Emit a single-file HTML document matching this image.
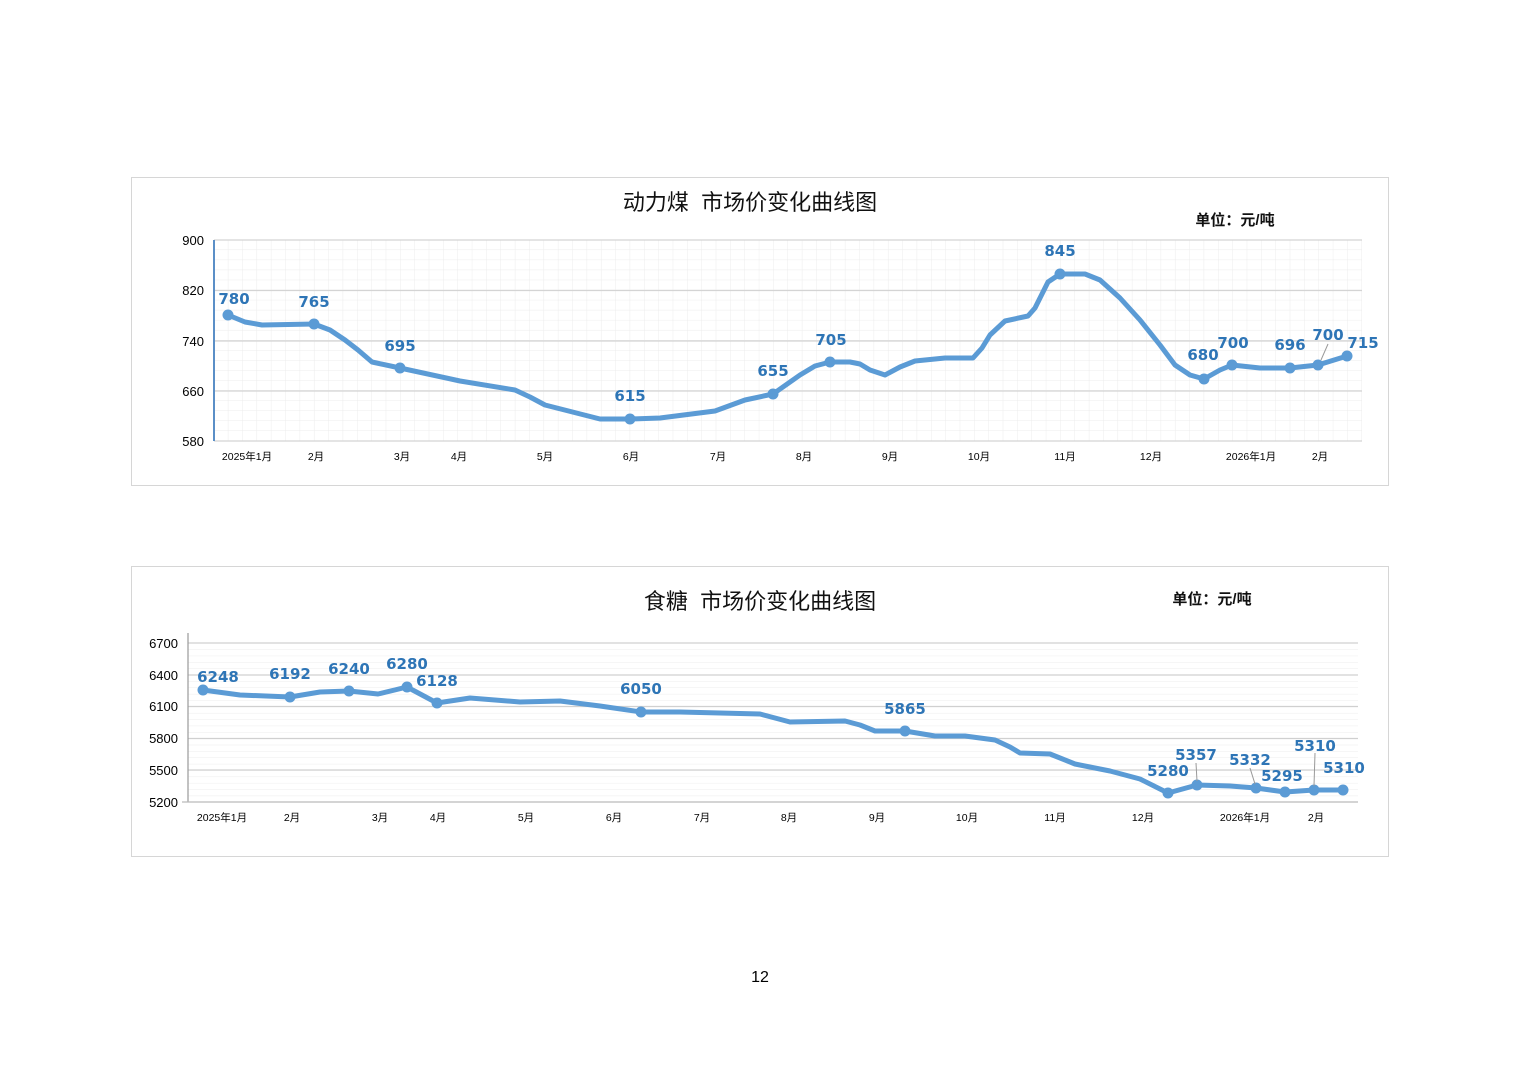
<!DOCTYPE html>
<html><head><meta charset="utf-8"><style>
html,body{margin:0;padding:0;background:#fff;width:1520px;height:1074px;overflow:hidden}
svg{display:block}
.t{font-family:"Liberation Sans","Noto Sans CJK SC",sans-serif}
.lab{font-family:"DejaVu Sans","Liberation Sans",sans-serif;font-weight:bold;font-size:15px;fill:#2e75b6;text-anchor:middle}
.ax{font-family:"Liberation Sans","Noto Sans CJK SC",sans-serif;font-size:13px;fill:#000;text-anchor:end}
.xl{font-family:"Liberation Sans","Noto Sans CJK SC",sans-serif;font-size:10.5px;fill:#000;text-anchor:middle}
</style></head><body>
<svg width="1520" height="1074" viewBox="0 0 1520 1074" xmlns="http://www.w3.org/2000/svg">
<defs>
<pattern id="g1" x="214" y="240" width="14.35" height="10.05" patternUnits="userSpaceOnUse">
<path d="M14.35 0V10.05M0 10.05H14.35" stroke="#ececec" stroke-width="1" fill="none"/>
</pattern>
<pattern id="g2" x="188" y="643" width="1200" height="6.36" patternUnits="userSpaceOnUse">
<path d="M0 0H1200" stroke="#ededed" stroke-width="1"/>
</pattern>
</defs>

<!-- Coal chart -->
<rect x="131.5" y="177.5" width="1257" height="308" fill="#fff" stroke="#d6d6d6"/>
<text class="t" x="750" y="210" font-size="22" text-anchor="middle" fill="#111">动力煤&#160;&#160;市场价变化曲线图</text>
<text class="t" x="1235" y="225" font-size="15" font-weight="bold" text-anchor="middle" fill="#111">单位：元/吨</text>
<rect x="214" y="240" width="1148" height="201" fill="url(#g1)"/>
<g stroke="#d4d4d4" stroke-width="1.2">
<line x1="214" y1="240" x2="1362" y2="240"/><line x1="214" y1="290.5" x2="1362" y2="290.5"/>
<line x1="214" y1="341" x2="1362" y2="341"/><line x1="214" y1="391" x2="1362" y2="391"/>
<line x1="214" y1="441" x2="1362" y2="441"/>
</g>
<line x1="214" y1="240" x2="214" y2="441" stroke="#5b8fc7" stroke-width="2"/>
<g class="ax"><text x="204" y="245">900</text><text x="204" y="295">820</text><text x="204" y="346">740</text><text x="204" y="396">660</text><text x="204" y="446">580</text></g>
<g class="xl"><text x="247" y="460">2025年1月</text><text x="316" y="460">2月</text><text x="402" y="460">3月</text><text x="459" y="460">4月</text><text x="545" y="460">5月</text><text x="631" y="460">6月</text><text x="718" y="460">7月</text><text x="804" y="460">8月</text><text x="890" y="460">9月</text><text x="979" y="460">10月</text><text x="1065" y="460">11月</text><text x="1151" y="460">12月</text><text x="1251" y="460">2026年1月</text><text x="1320" y="460">2月</text></g>
<polyline fill="none" stroke="#5b9bd5" stroke-width="5" stroke-linejoin="round" stroke-linecap="round" points="228,315 245,322 262,325 314,324 330,330 345,340 358,350 372,362 400,368 460,381 515,390 530,397 545,405 600,419 630,419 660,418 715,411 745,400 773,394 800,375 815,366 830,362 850,362 860,364 870,370 885,375 900,367 915,361 945,358 973,358 982,348 990,335 1005,321 1028,316 1035,308 1040,298 1048,282 1060,274 1085,274 1100,280 1120,298 1140,320 1160,345 1175,365 1190,375 1204,379 1220,370 1232,365 1260,368 1290,368 1318,365 1347,356"/>
<g fill="#5b9bd5"><circle cx="228" cy="315" r="5.5"/><circle cx="314" cy="324" r="5.5"/><circle cx="400" cy="368" r="5.5"/><circle cx="630" cy="419" r="5.5"/><circle cx="773" cy="394" r="5.5"/><circle cx="830" cy="362" r="5.5"/><circle cx="1060" cy="274" r="5.5"/><circle cx="1204" cy="379" r="5.5"/><circle cx="1232" cy="365" r="5.5"/><circle cx="1290" cy="368" r="5.5"/><circle cx="1318" cy="365" r="5.5"/><circle cx="1347" cy="356" r="5.5"/></g>
<line x1="1328" y1="344" x2="1321" y2="360" stroke="#999" stroke-width="1"/>
<g class="lab"><text x="234" y="304">780</text><text x="314" y="307">765</text><text x="400" y="351">695</text><text x="630" y="401">615</text><text x="773" y="376">655</text><text x="831" y="345">705</text><text x="1060" y="256">845</text><text x="1203" y="360">680</text><text x="1233" y="348">700</text><text x="1290" y="350">696</text><text x="1328" y="340">700</text><text x="1363" y="348">715</text></g>

<!-- Sugar chart -->
<rect x="131.5" y="566.5" width="1257" height="290" fill="#fff" stroke="#d6d6d6"/>
<text class="t" x="760" y="609" font-size="22" text-anchor="middle" fill="#111">食糖&#160;&#160;市场价变化曲线图</text>
<text class="t" x="1212" y="604" font-size="15" font-weight="bold" text-anchor="middle" fill="#111">单位：元/吨</text>
<rect x="188" y="643" width="1170" height="159" fill="url(#g2)"/>
<g stroke="#d0d0d0" stroke-width="1.2">
<line x1="188" y1="643" x2="1358" y2="643"/><line x1="188" y1="675" x2="1358" y2="675"/>
<line x1="188" y1="706.5" x2="1358" y2="706.5"/><line x1="188" y1="738.5" x2="1358" y2="738.5"/>
<line x1="188" y1="770" x2="1358" y2="770"/>
</g>
<line x1="188" y1="633" x2="188" y2="802" stroke="#999" stroke-width="1.2"/>
<line x1="182" y1="802" x2="1358" y2="802" stroke="#bbb" stroke-width="1.2"/>
<g class="ax" font-size="13"><text x="178" y="648">6700</text><text x="178" y="680">6400</text><text x="178" y="711">6100</text><text x="178" y="743">5800</text><text x="178" y="775">5500</text><text x="178" y="807">5200</text></g>
<g class="xl"><text x="222" y="821">2025年1月</text><text x="292" y="821">2月</text><text x="380" y="821">3月</text><text x="438" y="821">4月</text><text x="526" y="821">5月</text><text x="614" y="821">6月</text><text x="702" y="821">7月</text><text x="789" y="821">8月</text><text x="877" y="821">9月</text><text x="967" y="821">10月</text><text x="1055" y="821">11月</text><text x="1143" y="821">12月</text><text x="1245" y="821">2026年1月</text><text x="1316" y="821">2月</text></g>
<polyline fill="none" stroke="#5b9bd5" stroke-width="5" stroke-linejoin="round" stroke-linecap="round" points="203,690 240,695 290,697 320,692 349,691 378,694 407,687 437,703 470,698 520,702 560,701 600,706 641,712 680,712 720,713 760,714 775,718 790,722 845,721 860,725 875,731 905,731 935,736 965,736 995,740 1010,747 1020,753 1050,754 1075,764 1110,771 1140,779 1168,793 1197,785 1230,786 1256,788 1285,792 1314,790 1343,790"/>
<g fill="#5b9bd5"><circle cx="203" cy="690" r="5.5"/><circle cx="290" cy="697" r="5.5"/><circle cx="349" cy="691" r="5.5"/><circle cx="407" cy="687" r="5.5"/><circle cx="437" cy="703" r="5.5"/><circle cx="641" cy="712" r="5.5"/><circle cx="905" cy="731" r="5.5"/><circle cx="1168" cy="793" r="5.5"/><circle cx="1197" cy="785" r="5.5"/><circle cx="1256" cy="788" r="5.5"/><circle cx="1285" cy="792" r="5.5"/><circle cx="1314" cy="790" r="5.5"/><circle cx="1343" cy="790" r="5.5"/></g>
<g stroke="#999" stroke-width="1"><line x1="1196" y1="763" x2="1197" y2="781"/><line x1="1250" y1="768" x2="1255" y2="784"/><line x1="1315" y1="753" x2="1314" y2="786"/></g>
<g class="lab"><text x="218" y="682">6248</text><text x="290" y="679">6192</text><text x="349" y="674">6240</text><text x="407" y="669">6280</text><text x="437" y="686">6128</text><text x="641" y="694">6050</text><text x="905" y="714">5865</text><text x="1168" y="776">5280</text><text x="1196" y="760">5357</text><text x="1250" y="765">5332</text><text x="1282" y="781">5295</text><text x="1315" y="751">5310</text><text x="1344" y="773">5310</text></g>

<text class="t" x="760" y="982" font-size="16" text-anchor="middle" fill="#000">12</text>
</svg>
</body></html>
